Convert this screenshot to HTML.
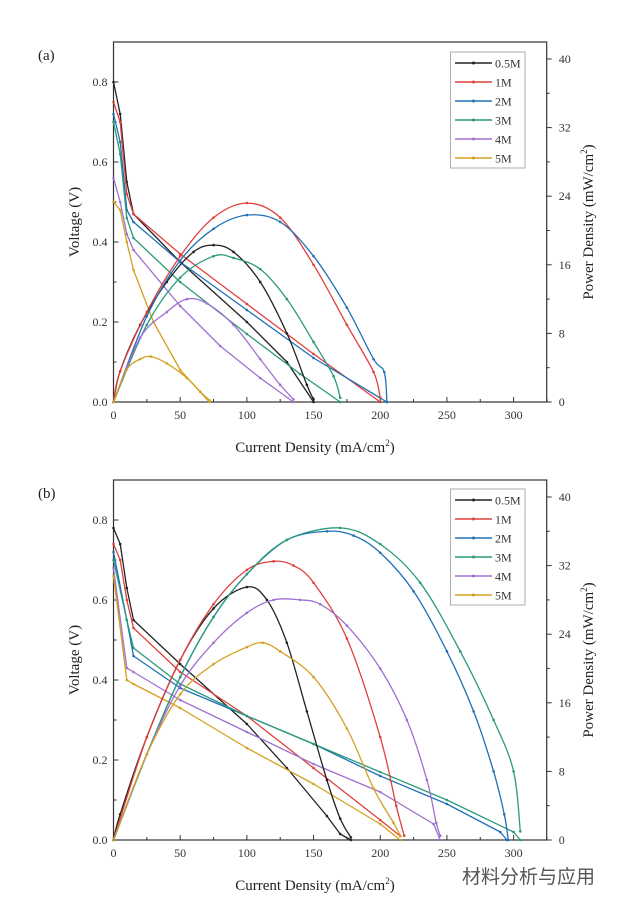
<!DOCTYPE html>
<html><head><meta charset="utf-8"><style>
body{margin:0;background:#fff;}
svg{display:block;font-family:"Liberation Serif",serif;}
</style></head><body>
<svg id="fig" width="618" height="906" viewBox="0 0 618 906"></svg>
<script>
// ---- Data (current density mA/cm2) ----
const series = ['0.5M','1M','2M','3M','4M','5M'];
const colors = ['#222222','#e0403c','#2070b8','#2a9a7a','#a070d0','#d4a020'];
const xTicks = [0,50,100,150,200,250,300];
const vTicks = ['0.0','0.2','0.4','0.6','0.8'];
const pTicks = [0,8,16,24,32,40];

// Panel (a) voltage [x, V]
const aV05 = [[0,0.8],[5,0.72],[10,0.55],[15,0.47],[50,0.35],[100,0.2],[130,0.1],[150,0]];
const aV1  = [[0,0.75],[5,0.7],[10,0.52],[15,0.47],[50,0.37],[100,0.245],[150,0.12],[200,0]];
const aV2  = [[0,0.72],[5,0.65],[10,0.48],[15,0.45],[50,0.35],[100,0.23],[150,0.11],[205,0]];
const aV3  = [[0,0.7],[5,0.62],[10,0.46],[15,0.41],[50,0.3],[100,0.17],[140,0.07],[170,0]];
const aV4  = [[0,0.56],[5,0.5],[10,0.42],[15,0.38],[50,0.24],[80,0.14],[110,0.06],[135,0]];
const aV5  = [[0,0.5],[5,0.48],[10,0.4],[15,0.33],[30,0.2],[50,0.08],[72,0]];
// Panel (a) power [x, P]
const aP05 = [[0,0],[5,3.6],[20,9],[40,14],[60,17.5],[75,18.3],[90,17.5],[110,14],[130,8],[145,2],[150,0.3]];
const aP1  = [[0,0],[5,3.6],[25,10.5],[50,17],[75,21.5],[100,23.2],[125,21.5],[150,16],[175,9],[195,3.5],[200,0.5]];
const aP2  = [[0,0],[25,10],[50,16.5],[75,20.2],[100,21.8],[125,21],[150,17],[175,11],[195,5],[203,3.5],[205,0]];
const aP3  = [[0,0],[25,9],[50,14.5],[75,17],[90,16.8],[110,15.5],[130,12],[150,7],[165,3],[170,0.5]];
const aP4  = [[0,0],[20,7.5],[40,10.5],[55,12],[70,11.5],[90,9],[110,5],[125,2],[135,0.3]];
const aP5  = [[0,0],[10,3.8],[20,5],[28,5.3],[40,4.5],[55,2.8],[65,1.2],[72,0.2]];

// Panel (b) voltage
const bV05 = [[0,0.78],[5,0.74],[10,0.63],[15,0.55],[50,0.44],[100,0.29],[130,0.18],[160,0.06],[170,0.015],[178,0]];
const bV1  = [[0,0.74],[5,0.7],[10,0.6],[15,0.53],[50,0.42],[100,0.31],[150,0.18],[200,0.05],[215,0.01]];
const bV2  = [[0,0.72],[10,0.55],[15,0.46],[50,0.38],[100,0.31],[150,0.24],[200,0.16],[250,0.09],[290,0.02],[295,0]];
const bV3  = [[0,0.7],[10,0.55],[15,0.48],[50,0.39],[100,0.31],[150,0.24],[200,0.17],[250,0.1],[300,0.02],[305,0]];
const bV4  = [[0,0.68],[10,0.43],[15,0.42],[50,0.35],[100,0.27],[150,0.19],[200,0.12],[240,0.04],[245,0]];
const bV5  = [[0,0.66],[10,0.4],[15,0.39],[50,0.33],[100,0.23],[150,0.14],[200,0.04],[215,0]];
// Panel (b) power
const bP05 = [[0,0],[5,3],[25,12],[50,21],[75,27],[100,29.5],[115,28],[130,23],[145,15],[160,7],[170,2.5],[178,0.3]];
const bP1  = [[0,0],[25,12],[50,21],[75,27.5],[100,31.5],[120,32.5],[135,32],[150,30],[175,23.5],[200,12],[212,4],[218,0.5]];
const bP2  = [[0,0],[25,10],[50,19],[75,26],[100,31],[130,35],[160,36],[180,35.5],[200,33.5],[225,29],[250,22],[270,15],[285,8],[293,3],[296,0]];
const bP3  = [[0,0],[25,10],[50,19],[75,26],[100,31],[130,35],[170,36.4],[200,34.5],[230,30],[260,22],[285,14],[300,8],[305,1]];
const bP4  = [[0,0],[25,10],[50,18],[75,23],[100,26.5],[120,28],[140,28],[155,27.5],[175,25],[200,20],[220,14],[235,7],[242,2],[245,0.5]];
const bP5  = [[0,0],[25,10],[50,17],[75,20.5],[100,22.5],[112,23],[125,22],[150,19],[175,13],[195,6],[210,2],[215,0.5]];

const NS='http://www.w3.org/2000/svg';
const svg=document.getElementById('fig');
function mk(tag,attrs,parent,text){const e=document.createElementNS(NS,tag);for(const k in attrs)e.setAttribute(k,attrs[k]);if(text!==undefined)e.textContent=text;(parent||svg).appendChild(e);return e;}

function smoothPath(pts){
  let d='M'+pts[0][0].toFixed(1)+','+pts[0][1].toFixed(1);
  for(let i=0;i<pts.length-1;i++){
    const p0=pts[Math.max(0,i-1)],p1=pts[i],p2=pts[i+1],p3=pts[Math.min(pts.length-1,i+2)];
    const c1x=p1[0]+(p2[0]-p0[0])/6,c1y=p1[1]+(p2[1]-p0[1])/6;
    const c2x=p2[0]-(p3[0]-p1[0])/6,c2y=p2[1]-(p3[1]-p1[1])/6;
    d+='C'+c1x.toFixed(1)+','+c1y.toFixed(1)+' '+c2x.toFixed(1)+','+c2y.toFixed(1)+' '+p2[0].toFixed(1)+','+p2[1].toFixed(1);
  }
  return d;
}

function panel(cfg){
  const g=mk('g',{});
  
  
  const L=113.5,R=546.7,T=cfg.top,B=cfg.bottom;
  const x0=113.5, xs=(513.6-113.5)/300;
  const X=v=>x0+v*xs;
  const YV=v=>B-(v/0.8)*(B-cfg.v08);
  const YP=v=>B-(v/40)*(B-cfg.p40);
  const fr=mk('rect',{x:L,y:T,width:R-L,height:B-T,fill:'none',stroke:'#333','stroke-width':1.2},g);
  
  
  for(let v=0;v<=325;v+=25){
    mk('line',{x1:X(v),x2:X(v),y1:B,y2:B-(v%50===0?5:3),stroke:'#333'},g);
  }
  xTicks.forEach(v=>{const t=mk('text',{x:X(v),y:B+17,'font-size':12,'text-anchor':'middle',fill:'#333'},g,String(v));
    });
  for(let i=0;i<=8;i++){const v=i*0.1;const y=YV(v);if(y<T)continue;
    mk('line',{x1:L,x2:L+(i%2===0?5:3),y1:y,y2:y,stroke:'#333'},g);}
  vTicks.forEach(s=>{const t=mk('text',{x:L-6,y:YV(parseFloat(s))+4,'font-size':12,'text-anchor':'end',fill:'#333'},g,s);
    });
  for(let v=0;v<=40;v+=4){const y=YP(v);mk('line',{x1:R,x2:R+(v%8===0?5:3),y1:y,y2:y,stroke:'#333'},g);}
  pTicks.forEach(v=>{const t=mk('text',{x:R+12,y:YP(v)+4,'font-size':12,'text-anchor':'start',fill:'#333'},g,String(v));
    });
  const pl=mk('text',{x:38,y:T+18,'font-size':15,fill:'#222'},g,'('+cfg.id+')');
  
  const xl=mk('text',{x:315,y:cfg.xlabelY,'font-size':15,'text-anchor':'middle',fill:'#222'},g);
  
  xl.innerHTML='Current Density (mA/cm<tspan dy="-6" font-size="9">2</tspan><tspan dy="6">)</tspan>';
  const ymid=(T+B)/2;
  const yl=mk('text',{x:0,y:0,'font-size':15,'text-anchor':'middle',fill:'#222',transform:`translate(79,${ymid}) rotate(-90)`},g,'Voltage (V)');
  
  const yr=mk('text',{x:0,y:0,'font-size':15,'text-anchor':'middle',fill:'#222',transform:`translate(593,${ymid}) rotate(-90)`},g);
  
  yr.innerHTML='Power Density (mW/cm<tspan dy="-6" font-size="9">2</tspan><tspan dy="6">)</tspan>';
  function draw(data,Y,color,name,smooth){
    const pts=data.map(p=>[X(p[0]),Y(p[1])]);
    const d=smooth?smoothPath(pts):pts.map((p,i)=>(i?'L':'M')+p[0].toFixed(1)+','+p[1].toFixed(1)).join('');
    const path=mk('path',{d:d,fill:'none',stroke:color,'stroke-width':1.3,'stroke-linejoin':'round'},g);
    
    
    data.forEach(p=>{const c=mk('circle',{cx:X(p[0]),cy:Y(p[1]),r:1.3,fill:color},g);
      });
  }
  cfg.V.forEach((d,i)=>draw(d,YV,colors[i],'voltage-'+series[i],false));
  cfg.P.forEach((d,i)=>draw(d,YP,colors[i],'power-'+series[i],true));
  const lg=mk('g',{},g);
  
  mk('rect',{x:450.5,y:cfg.legTop,width:74.5,height:116,fill:'#fff',stroke:'#999','stroke-width':0.8},lg);
  series.forEach((s,i)=>{const y=cfg.legTop+11+i*19;
    const e=mk('g',{},lg);
    
    mk('line',{x1:455,x2:492,y1:y,y2:y,stroke:colors[i],'stroke-width':1.5},e);
    mk('circle',{cx:473.5,cy:y,r:1.5,fill:colors[i]},e);
    mk('text',{x:495,y:y+4.5,'font-size':12,fill:'#333'},e,s);
  });
}
panel({id:'a',top:42,bottom:402,v08:82,p40:59,legTop:52,xlabelY:452,V:[aV05,aV1,aV2,aV3,aV4,aV5],P:[aP05,aP1,aP2,aP3,aP4,aP5]});
panel({id:'b',top:480,bottom:840,v08:520,p40:497,legTop:489,xlabelY:890,V:[bV05,bV1,bV2,bV3,bV4,bV5],P:[bP05,bP1,bP2,bP3,bP4,bP5]});
const wm=mk('text',{x:462,y:883,'font-size':19,fill:'#555','font-family':'"Liberation Sans","Noto Sans CJK SC",sans-serif'},svg,'材料分析与应用');


</script>
</body></html>
